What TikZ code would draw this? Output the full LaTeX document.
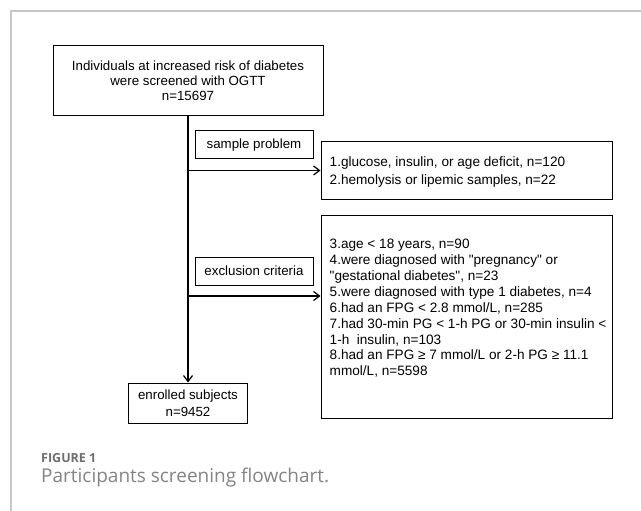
\documentclass[tikz,border=0pt]{standalone}
\usepackage{fontspec}
\setmainfont{Liberation Sans}
\newfontfamily\captionfont{Open Sans}
\usetikzlibrary{arrows.meta}
\definecolor{framegray}{HTML}{C8C8C8}
\definecolor{capgray}{HTML}{6E6E6E}
\begin{document}
\begin{tikzpicture}[x=1pt,y=-1pt,
    flowbox/.style={draw=black,line width=1pt,inner sep=0pt,align=center,font=\fontsize{13.3}{15}\selectfont},
    listbox/.style={draw=black,line width=1pt,inner sep=0pt,minimum width=291},
    listtext/.style={inner sep=0pt,align=left,font=\fontsize{13.6}{15.9}\selectfont},
    flow/.style={line width=1.2pt,-{Straight Barb[length=6pt,width=9pt]}}]
\useasboundingbox (0,0) rectangle (641,511);
\fill [white] (0,0) rectangle (641,511);
\draw [framegray,line width=1.3pt] (11,511) -- (11,11) -- (641,11);
\node [flowbox,minimum width=270,minimum height=70] (screened) at (188,81)
    {Individuals at increased risk of diabetes\\were screened with OGTT\\n=15697};
\node [flowbox,minimum width=119,minimum height=40,font=\fontsize{13.3}{16.7}\selectfont] (enrolled) at (188,403)
    {enrolled subjects\\n=9452};
\node [flowbox,minimum width=118,minimum height=28] (sample) at (254,145) {sample problem};
\node [flowbox,minimum width=118,minimum height=28] (exclusion) at (254,271) {exclusion criteria};
\node [listbox,minimum height=57] (problems) at (466.5,170.5) {};
\node [listtext,font=\fontsize{13.6}{17.4}\selectfont,anchor=west] (problist) at ([xshift=9pt,yshift=-1.5pt]problems.west)
    {1.glucose, insulin, or age deficit, n=120\\2.hemolysis or lipemic samples, n=22};
\node [listbox,minimum height=203] (criteria) at (466.5,316.5) {};
\node [listtext,anchor=north west] (critlist) at ([xshift=9pt,yshift=-24.5pt]criteria.north west)
    {3.age < 18 years, n=90\\
     4.were diagnosed with \textquotedbl pregnancy\textquotedbl{} or\\
     \textquotedbl gestational diabetes\textquotedbl, n=23\\
     5.were diagnosed with type 1 diabetes, n=4\\
     6.had an FPG < 2.8 mmol/L, n=285\\
     7.had 30-min PG < 1-h PG or 30-min insulin <\\
     1-h\ \ insulin, n=103\\
     8.had an FPG ≥ 7 mmol/L or 2-h PG ≥ 11.1\\
     mmol/L, n=5598};
\coordinate (probfork) at (problems.west -| screened.south);
\coordinate (critfork) at (188,296);
\draw [flow] (screened.south) -- (enrolled.north);
\draw [flow] (probfork) -- (problems.west);
\draw [flow] (critfork) -- (critfork -| criteria.west);
\node [anchor=base west,inner sep=0pt,text=capgray,font=\captionfont\bfseries\fontsize{12.5}{15}\selectfont] (figlabel) at (41,462) {FIGURE 1};
\node [anchor=base west,inner sep=0pt,text=capgray!85,font=\captionfont\fontsize{19}{22}\selectfont] (figcaption) at (41,482) {Participants screening flowchart.};
\end{tikzpicture}
\end{document}
